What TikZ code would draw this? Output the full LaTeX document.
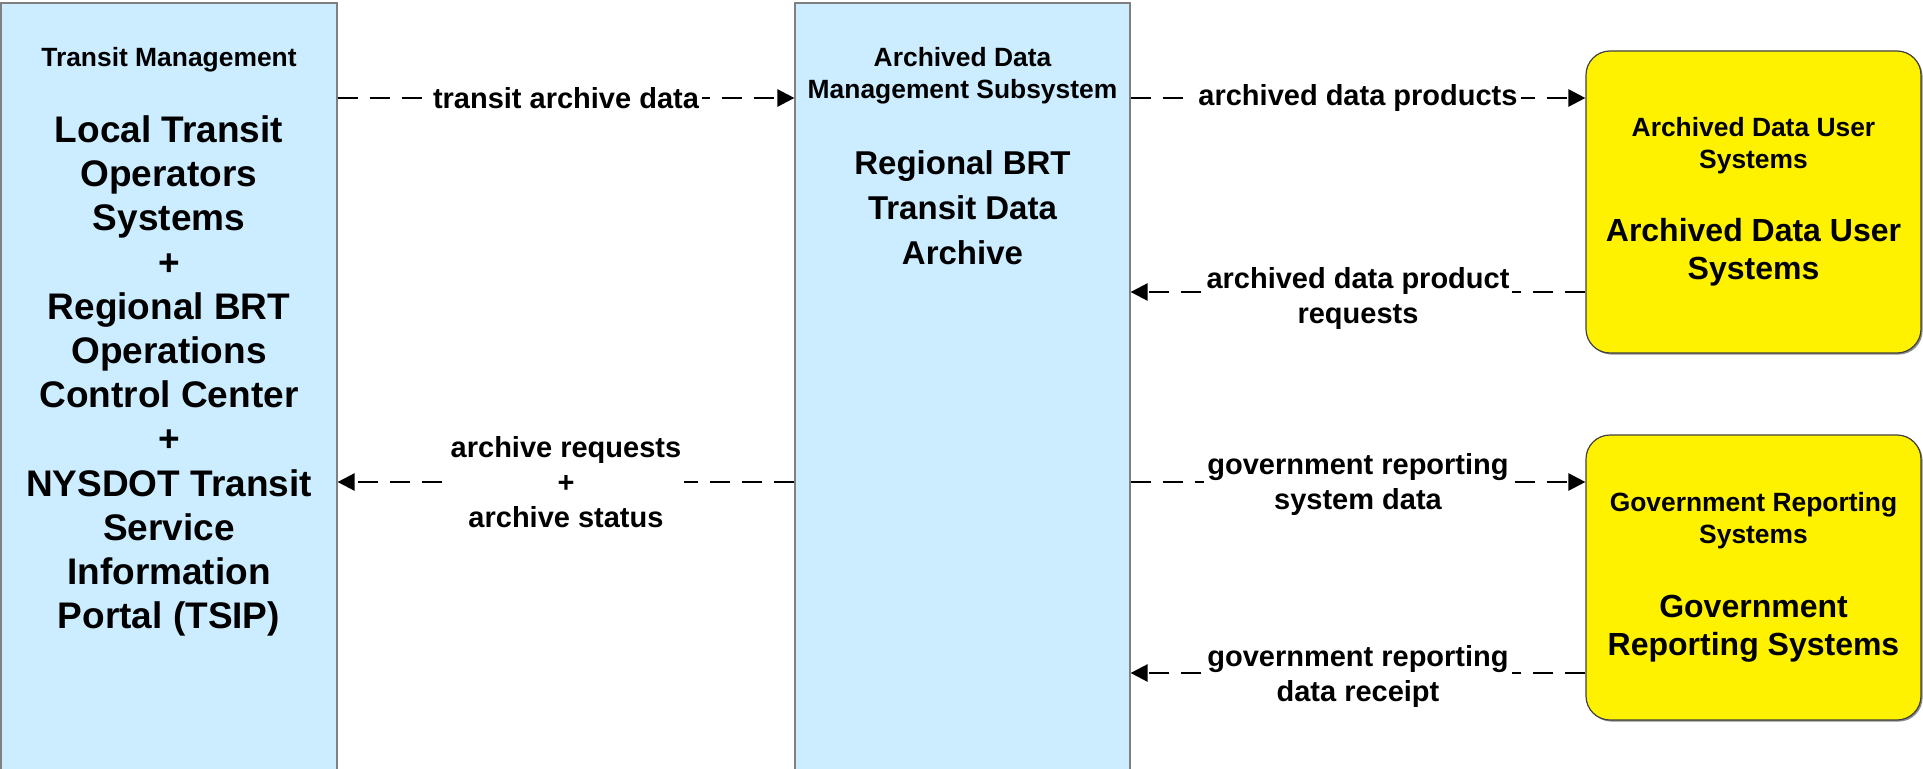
\documentclass[tikz,border=0pt]{standalone}
\usepackage{fontspec}
\setmainfont{Liberation Sans}
\usepackage{xcolor}
\usetikzlibrary{arrows.meta, shadows}
\definecolor{boxblue}{HTML}{CCECFF}
\definecolor{boxline}{HTML}{808080}
\tikzset{>={Triangle[length=8.5pt, width=8.5pt]},
  sysbox/.style={draw=boxline, line width=0.6pt, fill=boxblue, inner sep=0pt},
  extbox/.style={draw=black!75, line width=0.6pt, fill=yellow, rounded corners=12pt, inner sep=0pt,
    drop shadow={shadow xshift=0.8pt, shadow yshift=-0.8pt, fill=black!45, opacity=1}},
  hdr/.style={align=center, inner sep=0pt, font=\bfseries\fontsize{13.2}{16}\selectfont},
  bigname/.style={align=center, inner sep=0pt, font=\bfseries\fontsize{18.5}{22.1}\selectfont},
  midname/.style={align=center, inner sep=0pt, font=\bfseries\fontsize{16.5}{22.5}\selectfont},
  extname/.style={align=center, inner sep=0pt, font=\bfseries\fontsize{16}{19}\selectfont},
  flow/.style={->, line width=1.3pt, dash pattern=on 10pt off 6pt},
  lbl/.style={fill=white, align=center, inner sep=1.5pt, font=\bfseries\fontsize{14.5}{17.5}\selectfont}}

\begin{document}
\begin{tikzpicture}[x=0.5pt, y=0.5pt]
\useasboundingbox (0,0) rectangle (1923,768);
\node[sysbox, minimum width=168pt, minimum height=400pt] (tm) at (169,365) {};
\node[sysbox, minimum width=167.5pt, minimum height=400pt] (ads) at (962.5,365) {};
\node[extbox, minimum width=167.5pt, minimum height=151pt] (adu) at (1753.5,566) {};
\node[extbox, minimum width=167.5pt, minimum height=142.5pt] (grs) at (1753.5,190.5) {};

\node[hdr] (tmHdr) at (169,708) {Transit Management};
\node[bigname] (tmName) at (169,392) {Local Transit\\Operators\\Systems\\+\\Regional BRT\\Operations\\Control Center\\+\\NYSDOT Transit\\Service\\Information\\Portal (TSIP)};
\node[hdr] (adsHdr) at (962.5,692.5) {Archived Data\\Management Subsystem};
\node[midname] (adsName) at (962.5,560) {Regional BRT\\Transit Data\\Archive};
\node[hdr] (aduHdr) at (1753.5,622) {Archived Data User\\Systems};
\node[extname] (aduName) at (1753.5,516) {Archived Data User\\Systems};
\node[hdr] (grsHdr) at (1753.5,247) {Government Reporting\\Systems};
\node[extname] (grsName) at (1753.5,139) {Government\\Reporting Systems};

\coordinate (rowA) at (0,670);
\coordinate (rowB) at (0,476);
\coordinate (rowC) at (0,286);
\coordinate (rowD) at (0,95);

\draw[flow] (tm.east |- rowA) -- (ads.west |- rowA) node[midway, lbl]{transit archive data};
\draw[flow] (ads.east |- rowA) -- (adu.west |- rowA) node[midway, lbl]{archived data products};
\draw[flow] (adu.west |- rowB) -- (ads.east |- rowB) node[midway, lbl, yshift=-3pt]{archived data product\\requests};
\draw[flow] (ads.west |- rowC) -- (tm.east |- rowC) node[midway, lbl]{archive requests\\+\\archive status};
\draw[flow] (ads.east |- rowC) -- (grs.west |- rowC) node[midway, lbl, yshift=-1pt]{government reporting\\system data};
\draw[flow] (grs.west |- rowD) -- (ads.east |- rowD) node[midway, lbl, yshift=-1.5pt]{government reporting\\data receipt};
\end{tikzpicture}
\end{document}
